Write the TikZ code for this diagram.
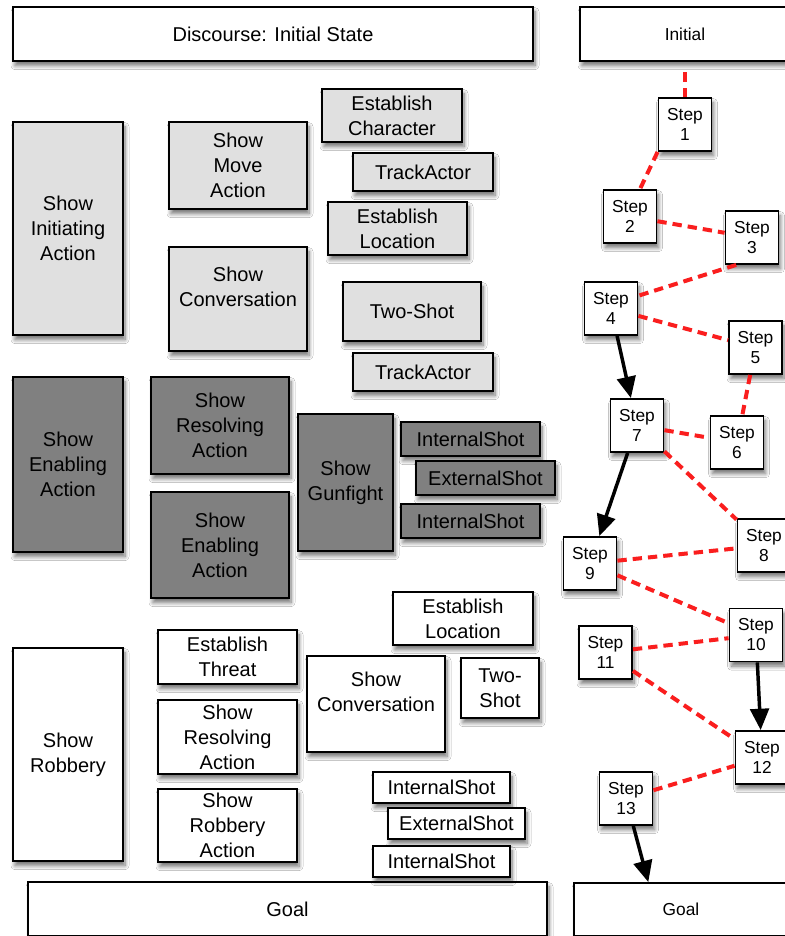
\documentclass[tikz,border=0pt]{standalone}
\usepackage{fontspec}
\setmainfont{Liberation Sans}
\usetikzlibrary{arrows.meta,shadows,shadows.blur}

\tikzset{every picture/.style={line width=0.75pt}}
\tikzset{
  sz/.style 2 args={minimum width=0.75pt*#1, minimum height=0.75pt*#2},
  box/.style={draw=black, line width=1.3pt, align=center, inner sep=0pt,
    font=\fontsize{15}{18.8}\selectfont,
    blur shadow={shadow xshift=1.5pt, shadow yshift=-3.5pt, shadow blur radius=3pt, shadow blur steps=8, shadow opacity=55}},
  lightbox/.style={box, fill={rgb,255:red,224;green,224;blue,224}},
  darkbox/.style={box, fill={rgb,255:red,128;green,128;blue,128}},
  whitebox/.style={box, fill=white},
  smallbox/.style={whitebox, line width=1.4pt, font=\fontsize{13}{15}\selectfont},
  stepbox/.style={smallbox, sz={53}{53}},
  link/.style={draw={rgb,255:red,250;green,30;blue,30}, line width=3pt, dash pattern=on 7pt off 4.5pt},
  order/.style={line width=2.6pt, -{Triangle[length=16pt,width=14pt]}},
}

\begin{document}
\begin{tikzpicture}[x=0.75pt,y=0.75pt,yscale=-1,xscale=1]
\useasboundingbox (0,0) rectangle (785,936);
\fill[white] (0,0) rectangle (785,936);
\clip (0,0) rectangle (785,936);

% Discourse plan: top and bottom
\node[whitebox, sz={520}{54}] (disc) at (273,34) {Discourse: Initial State};
\node[whitebox, sz={519}{54}] (goalL) at (287.5,909) {Goal};

% Light group
\node[lightbox, sz={110}{213}] (sia) at (68,228.5) {Show\\Initiating\\Action};
\node[lightbox, sz={138}{87}] (sma) at (238,165.5) {Show\\Move\\Action};
\node[lightbox, sz={138}{104}] (sconv) at (238,299) {Show\\Conversation\\~};
\node[lightbox, sz={140}{53}] (ec) at (392,115.5) {Establish\\Character};
\node[lightbox, sz={140}{38}] (ta1) at (423,172) {TrackActor};
\node[lightbox, sz={139}{53}] (el) at (397.5,228.5) {Establish\\Location};
\node[lightbox, sz={138}{59}] (ts) at (412,311.5) {Two-Shot};
\node[lightbox, sz={140}{38}] (ta2) at (423,372) {TrackActor};

% Dark group
\node[darkbox, sz={110}{175}] (sea) at (68,464.5) {Show\\Enabling\\Action};
\node[darkbox, sz={138}{97}] (sra) at (220,425.5) {Show\\Resolving\\Action};
\node[darkbox, sz={138}{106}] (sea2) at (220,545) {Show\\Enabling\\Action};
\node[darkbox, sz={95}{137}] (sg) at (345.5,482.5) {Show\\Gunfight};
\node[darkbox, sz={139}{34}] (is1) at (470.5,439) {InternalShot};
\node[darkbox, sz={139}{34}] (es1) at (485.5,478) {ExternalShot};
\node[darkbox, sz={139}{34}] (is2) at (470.5,521) {InternalShot};

% White group
\node[whitebox, sz={110}{213}] (sr) at (68,754.5) {Show\\Robbery};
\node[whitebox, sz={139}{54}] (et) at (227.5,657) {Establish\\Threat};
\node[whitebox, sz={139}{74}] (sra2) at (227.5,737) {Show\\Resolving\\Action};
\node[whitebox, sz={139}{73}] (sroa) at (227.5,825.5) {Show\\Robbery\\Action};
\node[whitebox, sz={138}{96}] (sconv2) at (376,704) {Show\\Conversation\\~};
\node[whitebox, sz={140}{53}] (el2) at (463,618.5) {Establish\\Location};
\node[whitebox, sz={78}{60}] (ts2) at (500,688) {Two-\\Shot};
\node[whitebox, sz={137}{31}] (is3) at (441.5,787.5) {InternalShot};
\node[whitebox, sz={137}{31}] (es2) at (456.5,823.5) {ExternalShot};
\node[whitebox, sz={137}{31}] (is4) at (441.5,861.5) {InternalShot};

% Story plan
\node[smallbox, sz={210}{54}] (init) at (685,34) {Initial};
\node[smallbox, sz={214}{53}] (goalR) at (681,909.5) {Goal};
\node[stepbox] (s1) at (685,124.5) {Step\\1};
\node[stepbox] (s2) at (630,216.5) {Step\\2};
\node[stepbox] (s3) at (752,237.5) {Step\\3};
\node[stepbox] (s4) at (611,308.5) {Step\\4};
\node[stepbox] (s5) at (755.5,347.5) {Step\\5};
\node[stepbox] (s6) at (737,442.5) {Step\\6};
\node[stepbox] (s7) at (637,425.5) {Step\\7};
\node[stepbox] (s8) at (764,545.5) {Step\\8};
\node[stepbox] (s9) at (590,563.5) {Step\\9};
\node[stepbox] (s10) at (756,635) {Step\\10};
\node[stepbox] (s11) at (605.5,652.5) {Step\\11};
\node[stepbox] (s12) at (762,757.5) {Step\\12};
\node[stepbox] (s13) at (626,798.5) {Step\\13};

% Causal links
\draw[link, shorten >=6pt] (s1.north) -- (s1.north |- init.south);
\draw[link] (s1.south west) -- (s2.70);
\draw[link] (s2) -- (s3);
\draw[link] (s3.240) -- (s4.25);
\draw[link] (s4) -- (s5);
\draw[link] (s5) -- (s6);
\draw[link] (s7) -- (s6);
\draw[link] (s7) -- (s8);
\draw[link] (s9) -- (s8);
\draw[link] (s9) -- (s10);
\draw[link] (s11) -- (s10);
\draw[link] (s11) -- (s12);
\draw[link] (s13) -- (s12);

% Ordering links
\draw[order] (s4) -- (s7);
\draw[order] (s7) -- (s9);
\draw[order] (s10) -- (s12);
\draw[order] (s13) -- (goalR.140);

\end{tikzpicture}
\end{document}
